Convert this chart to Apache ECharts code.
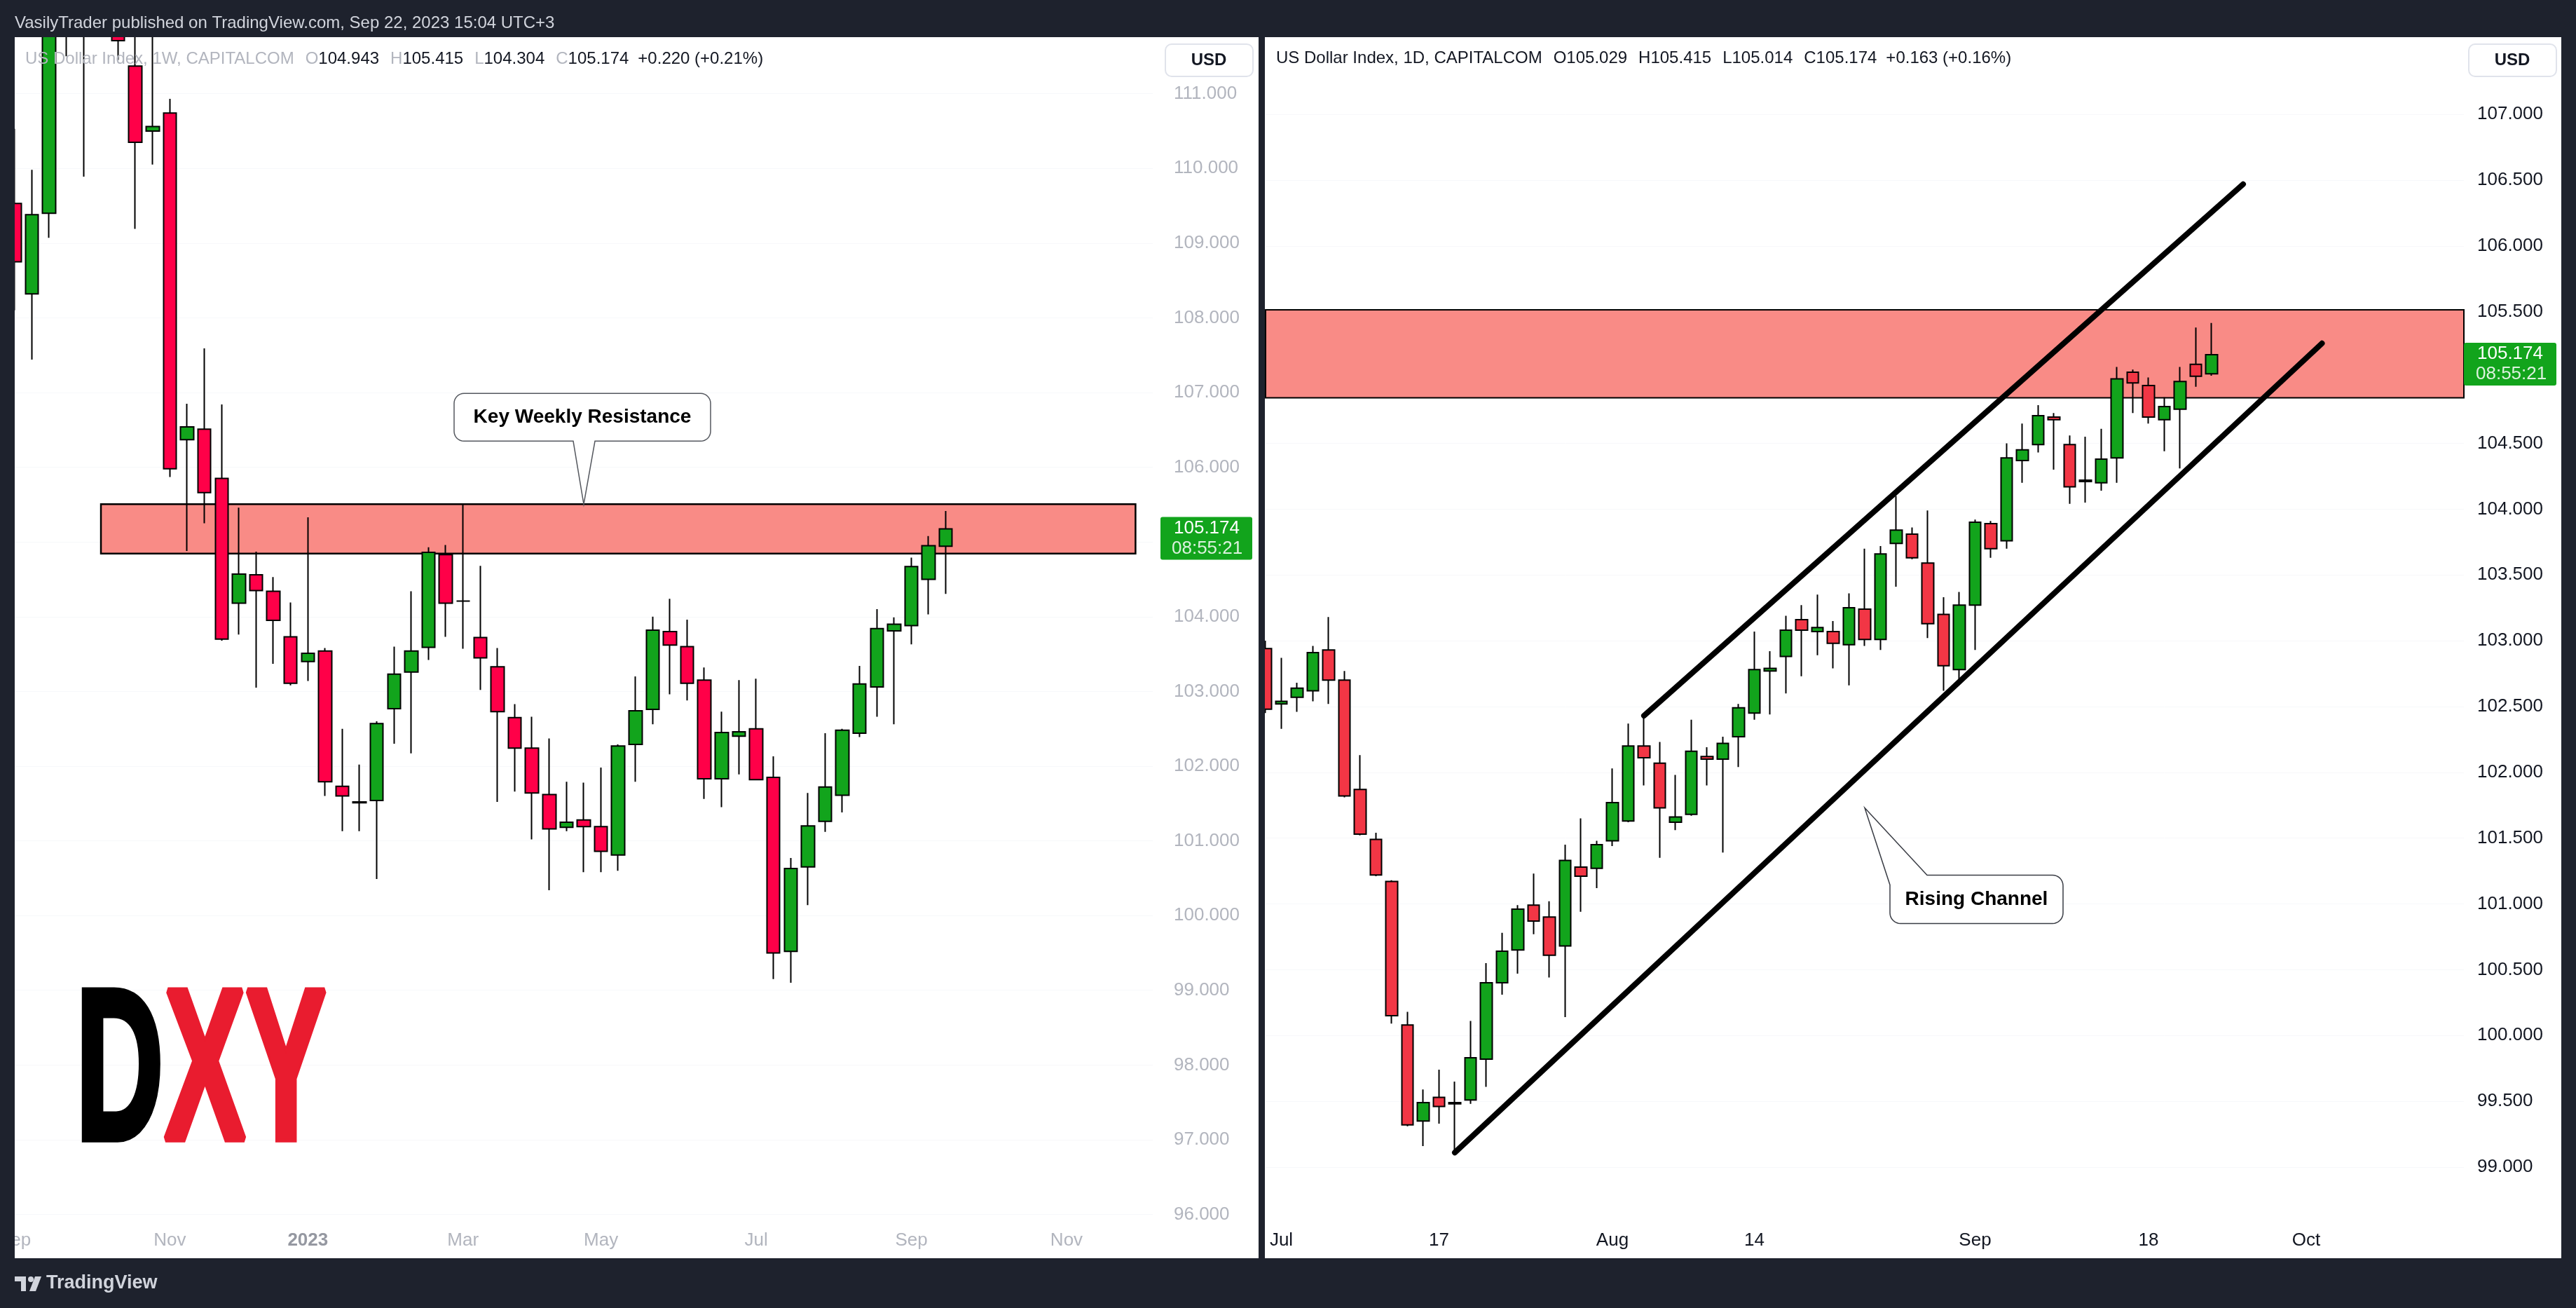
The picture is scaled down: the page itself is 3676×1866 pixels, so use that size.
<!DOCTYPE html>
<html><head><meta charset="utf-8">
<script src="https://cdn.jsdelivr.net/npm/echarts@6/dist/echarts.min.js"></script>
<style>html,body{margin:0;padding:0;background:#1e222d;}#c{width:3676px;height:1866px;}</style>
</head><body><div id="c"></div>
<script>
// ---------------- DATA ----------------
const weeklyDates = ['2022-09-05','2022-09-12','2022-09-19','2022-09-26','2022-10-03','2022-10-10','2022-10-17','2022-10-24','2022-10-31','2022-11-07','2022-11-14','2022-11-21','2022-11-28','2022-12-05','2022-12-12','2022-12-19','2022-12-26','2023-01-02','2023-01-09','2023-01-16','2023-01-23','2023-01-30','2023-02-06','2023-02-13','2023-02-20','2023-02-27','2023-03-06','2023-03-13','2023-03-20','2023-03-27','2023-04-03','2023-04-10','2023-04-17','2023-04-24','2023-05-01','2023-05-08','2023-05-15','2023-05-22','2023-05-29','2023-06-05','2023-06-12','2023-06-19','2023-06-26','2023-07-03','2023-07-10','2023-07-17','2023-07-24','2023-07-31','2023-08-07','2023-08-14','2023-08-21','2023-08-28','2023-09-04','2023-09-11','2023-09-18'];
const weeklyFutureDates = ['2023-09-25','2023-10-02','2023-10-09','2023-10-16','2023-10-23','2023-10-30','2023-11-06','2023-11-13','2023-11-20','2023-11-27','2023-12-04','2023-12-11'];
const weeklyOpen  = [109.53,108.32,109.40,113.10,112.00,112.80,113.30,111.37,110.50,110.74,106.37,106.51,105.85,104.18,104.56,104.34,103.73,103.40,103.54,101.73,101.51,101.54,102.77,103.26,103.59,104.83,104.21,103.72,103.33,102.65,102.24,101.62,101.18,101.28,101.19,100.81,102.29,102.76,103.80,103.60,103.15,101.83,102.40,102.50,101.85,99.52,100.65,101.26,101.61,102.44,103.06,103.81,103.88,104.50,104.943];
const weeklyHigh  = [110.53,109.98,113.20,114.70,112.90,113.90,113.90,112.00,113.00,110.93,106.85,107.59,106.84,105.46,104.87,104.53,104.19,105.33,103.58,102.50,102.02,102.60,103.60,104.34,104.93,104.96,105.51,104.68,103.58,102.83,102.66,102.37,101.79,101.78,101.98,102.29,103.20,104.00,104.24,103.96,103.32,102.73,103.15,103.17,102.13,100.77,101.64,102.44,102.50,103.34,104.10,103.99,104.79,105.08,105.415];
const weeklyLow   = [108.10,107.44,109.07,111.50,109.89,112.40,111.45,109.19,110.05,105.87,104.88,105.25,103.68,103.76,103.05,103.37,103.08,103.14,101.60,101.13,101.13,100.49,102.30,102.17,103.42,103.73,103.57,103.02,101.52,101.66,101.02,100.34,101.13,100.58,100.58,100.60,101.79,102.56,102.96,102.88,101.56,101.45,101.89,101.81,99.15,99.10,100.14,101.12,101.38,102.39,102.66,102.56,103.63,104.03,104.304];
const weeklyClose = [108.75,109.38,113.10,112.10,112.80,113.30,111.71,110.35,110.56,105.98,106.54,105.66,103.70,104.57,104.35,103.95,103.11,103.51,101.79,101.60,101.52,102.57,103.23,103.54,104.86,104.18,104.21,103.45,102.73,102.24,101.64,101.16,101.25,101.19,100.86,102.27,102.74,103.82,103.62,103.11,101.83,102.45,102.46,101.82,99.50,100.63,101.20,101.72,102.48,103.10,103.84,103.90,104.67,104.95,105.174];

const dailyDates = ['2023-06-30','2023-07-03','2023-07-04','2023-07-05','2023-07-06','2023-07-07','2023-07-10','2023-07-11','2023-07-12','2023-07-13','2023-07-14','2023-07-17','2023-07-18','2023-07-19','2023-07-20','2023-07-21','2023-07-24','2023-07-25','2023-07-26','2023-07-27','2023-07-28','2023-07-31','2023-08-01','2023-08-02','2023-08-03','2023-08-04','2023-08-07','2023-08-08','2023-08-09','2023-08-10','2023-08-11','2023-08-14','2023-08-15','2023-08-16','2023-08-17','2023-08-18','2023-08-21','2023-08-22','2023-08-23','2023-08-24','2023-08-25','2023-08-28','2023-08-29','2023-08-30','2023-08-31','2023-09-01','2023-09-04','2023-09-05','2023-09-06','2023-09-07','2023-09-08','2023-09-11','2023-09-12','2023-09-13','2023-09-14','2023-09-15','2023-09-18','2023-09-19','2023-09-20','2023-09-21','2023-09-22'];
const dailyFutureDates = ['2023-09-25','2023-09-26','2023-09-27','2023-09-28','2023-09-29','2023-10-02','2023-10-03','2023-10-04','2023-10-05','2023-10-06','2023-10-09','2023-10-10','2023-10-11','2023-10-12','2023-10-13','2023-10-16'];
const dailyOpen  = [102.94,102.52,102.57,102.62,102.93,102.70,101.87,101.49,101.17,100.08,99.35,99.53,99.48,99.51,99.82,100.40,100.65,100.99,100.90,100.68,101.28,101.27,101.48,101.63,102.20,102.07,101.62,101.68,102.12,102.10,102.27,102.45,102.77,102.88,103.16,103.07,103.07,102.97,103.24,103.01,103.74,103.81,103.59,103.20,102.78,103.27,103.89,103.76,104.37,104.49,104.70,104.49,104.21,104.20,104.39,105.04,104.94,104.68,104.76,105.10,105.029];
const dailyHigh  = [103.00,102.87,102.68,102.96,103.18,102.77,102.13,101.54,101.18,100.18,99.59,99.74,99.65,100.11,100.55,100.78,100.99,101.23,101.02,101.45,101.65,101.48,102.03,102.37,102.43,102.23,101.98,102.40,102.19,102.27,102.52,103.07,102.92,103.19,103.27,103.35,103.15,103.36,103.70,103.72,104.10,103.86,103.99,103.33,103.37,103.92,103.91,104.50,104.65,104.79,104.73,104.56,104.55,104.61,105.08,105.06,105.00,104.85,105.08,105.38,105.415];
const dailyLow   = [102.45,102.33,102.46,102.54,102.52,101.81,101.52,101.21,100.09,99.31,99.16,99.33,99.11,99.48,99.61,100.31,100.47,100.77,100.44,100.14,100.94,101.12,101.44,101.62,101.90,101.35,101.56,101.67,101.90,101.39,102.04,102.40,102.44,102.60,102.73,102.89,102.79,102.66,102.96,102.93,103.41,103.62,103.02,102.62,102.67,102.93,103.63,103.70,104.20,104.43,104.30,104.04,104.05,104.14,104.20,104.73,104.65,104.44,104.31,104.93,105.014];
const dailyClose = [102.48,102.54,102.64,102.91,102.70,101.82,101.53,101.22,100.15,99.32,99.49,99.46,99.49,99.83,100.40,100.64,100.96,100.87,100.61,101.33,101.21,101.45,101.77,102.20,102.11,101.73,101.66,102.16,102.10,102.22,102.49,102.78,102.79,103.08,103.08,103.10,102.98,103.25,103.01,103.66,103.84,103.63,103.13,102.81,103.27,103.90,103.70,104.39,104.45,104.71,104.68,104.17,104.22,104.38,104.99,104.96,104.70,104.78,104.97,105.01,105.174];

const weeklyTickDates  = ['2022-09-05','2022-11-07','2023-01-02','2023-03-06','2023-05-01','2023-07-03','2023-09-04','2023-11-06'];
const weeklyTickLabels = ['Sep','Nov','2023','Mar','May','Jul','Sep','Nov'];
const dailyTickDates   = ['2023-07-03','2023-07-17','2023-08-01','2023-08-14','2023-09-01','2023-09-18','2023-10-02'];
const dailyTickLabels  = ['Jul','17','Aug','14','Sep','18','Oct'];
const weeklyPriceTicks = [96,97,98,99,100,101,102,103,104,105,106,107,108,109,110,111];
const dailyPriceTicks  = [99,99.5,100,100.5,101,101.5,102,102.5,103,103.5,104,104.5,105,105.5,106,106.5,107];

const weeklyZone = ['2022-10-10','2023-12-04',104.844,105.505];
const dailyZone  = ['2023-06-30','2023-10-16',104.846,105.515];
const channelUpper = [['2023-08-03',102.43],['2023-09-26',106.47]];
const channelLower = [['2023-07-18',99.11],['2023-10-03',105.26]];
const weeklyCallout = ['2023-04-24',105.505,'Key Weekly Resistance'];
const dailyCallout  = ['2023-08-23',101.73,'Rising Channel'];
const lastPrice = 105.174;
const countdown = '08:55:21';
const weeklyHeader = ['US Dollar Index, 1W, CAPITALCOM','104.943','105.415','104.304','105.174','+0.220 (+0.21%)'];
const dailyHeader  = ['US Dollar Index, 1D, CAPITALCOM','105.029','105.415','105.014','105.174','+0.163 (+0.16%)'];

// ---------------- CHART ----------------
const FONT = '"Liberation Sans", Arial, sans-serif';
const GREEN = '#12a41c';
const wkCandles = weeklyDates.map((d,i)=>[weeklyOpen[i],weeklyClose[i],weeklyLow[i],weeklyHigh[i]]);
const dyCandles = dailyDates.map((d,i)=>[dailyOpen[i],dailyClose[i],dailyLow[i],dailyHigh[i]]);
const wkCats = weeklyDates.concat(weeklyFutureDates);
const dyCats = dailyDates.concat(dailyFutureDates);

function xAxisFor(gridIndex, cats, tickDates, tickLabels, color){
  return {
    type:'category', gridIndex, data:cats, boundaryGap:false,
    axisLine:{show:false}, axisTick:{show:false}, splitLine:{show:false},
    axisLabel:{
      color, fontSize:26, fontFamily:FONT, margin:17, hideOverlap:false,
      interval:(idx,val)=>tickDates.indexOf(val)>=0,
      formatter:(val)=>{const k=tickDates.indexOf(val); if(k<0) return ''; const t=tickLabels[k]; return /^\d{4}$/.test(t)?'{b|'+t+'}':t;},
      rich:{b:{fontWeight:'bold',color:'#9598a1',fontSize:26,fontFamily:FONT}}
    }
  };
}
function yAxisFor(gridIndex, min, max, ticks, color, margin){
  return {
    type:'value', gridIndex, position:'right', min, max, scale:true,
    axisLine:{show:false},
    axisTick:{show:false, customValues:ticks},
    splitLine:{show:true, lineStyle:{color:'#f7f8fa', width:1}},
    axisLabel:{customValues:ticks, color, fontSize:26, fontFamily:FONT, margin, align:'left',
      formatter:(v)=>v.toFixed(3)}
  };
}

const option = {
  backgroundColor:'#ffffff',
  animation:false,
  grid:[
    {left:21, top:53, width:1624, height:1687, outerBoundsMode:'none', containLabel:false},
    {left:1806, top:53, width:1710, height:1687, outerBoundsMode:'none', containLabel:false}
  ],
  xAxis:[
    xAxisFor(0, wkCats, weeklyTickDates, weeklyTickLabels, '#b2b5be'),
    xAxisFor(1, dyCats, dailyTickDates, dailyTickLabels, '#131722')
  ],
  yAxis:[
    yAxisFor(0, 95.93, 111.756, weeklyPriceTicks, '#b2b5be', 30),
    yAxisFor(1, 98.60, 107.587, dailyPriceTicks, '#131722', 19)
  ],
  series:[
    {type:'line', xAxisIndex:0, yAxisIndex:0, data:[], z:1, silent:true,
     markArea:{silent:true, itemStyle:{color:'#f98b86', borderColor:'#000', borderWidth:2.5},
       data:[[{xAxis:weeklyZone[0], yAxis:weeklyZone[2]},{xAxis:weeklyZone[1], yAxis:weeklyZone[3]}]]}},
    {type:'line', xAxisIndex:1, yAxisIndex:1, data:[], z:1, silent:true,
     markArea:{silent:true, itemStyle:{color:'#f98b86', borderColor:'#000', borderWidth:2},
       data:[[{xAxis:dailyZone[0], yAxis:dailyZone[2]},{xAxis:dailyZone[1], yAxis:dailyZone[3]}]]}},
    {type:'candlestick', xAxisIndex:0, yAxisIndex:0, data:wkCandles, z:3, barWidth:19,
     itemStyle:{color:GREEN, color0:'#ff0048', borderColor:'#000', borderColor0:'#000', borderColorDoji:'#000', borderWidth:2}},
    {type:'candlestick', xAxisIndex:1, yAxisIndex:1, data:dyCandles, z:3, barWidth:17,
     itemStyle:{color:GREEN, color0:'#f23645', borderColor:'#000', borderColor0:'#000', borderColorDoji:'#000', borderWidth:2}},
    {type:'line', xAxisIndex:1, yAxisIndex:1, data:channelUpper, z:4, symbol:'none', silent:true,
     lineStyle:{color:'#000', width:8, cap:'round'}},
    {type:'line', xAxisIndex:1, yAxisIndex:1, data:channelLower, z:4, symbol:'none', silent:true,
     lineStyle:{color:'#000', width:8, cap:'round'}}
  ]
};

const chart = echarts.init(document.getElementById('c'), null, {width:3676, height:1866});
chart.setOption(option);

function px(g, x, y){ return chart.convertToPixel({xAxisIndex:g, yAxisIndex:g}, [x, y]); }
function arcPts(cx, cy, r, a0, a1){
  const pts=[]; const n=8;
  for(let i=0;i<=n;i++){ const a=(a0+(a1-a0)*i/n)*Math.PI/180; pts.push([cx+r*Math.cos(a), cy+r*Math.sin(a)]); }
  return pts;
}

const DARK = '#1e222d';
const els = [];
[[0,0,3676,53],[0,1795,3676,71],[0,0,21,1866],[1796,0,9,1866],[3655,0,21,1866]].forEach(r=>{
  els.push({type:'rect', shape:{x:r[0],y:r[1],width:r[2],height:r[3]}, style:{fill:DARK}, z:100, silent:true});
});
els.push({type:'text', x:21, y:33, z:101, style:{text:'VasilyTrader published on TradingView.com, Sep 22, 2023 15:04 UTC+3', fill:'#d1d4dc', fontSize:24, fontFamily:FONT, verticalAlign:'middle'}});
function header(x, y, h, gray, dark){
  const letters=['O','H','L','C'];
  let t='{t|'+h[0]+'}';
  for(let i=0;i<4;i++){ t+='{l|'+letters[i]+'}{v|'+h[i+1]+'}'; }
  t+='{c|'+h[5]+'}';
  return {type:'text', x, y, z:101, style:{text:t, verticalAlign:'middle', fontFamily:FONT, fontSize:24,
    rich:{t:{fill:gray,fontSize:24,fontFamily:FONT}, l:{fill:gray,fontSize:24,fontFamily:FONT,padding:[0,0,0,16]},
          v:{fill:dark,fontSize:24,fontFamily:FONT}, c:{fill:dark,fontSize:24,fontFamily:FONT,padding:[0,0,0,13]}}}};
}
els.push(header(36, 84, weeklyHeader, '#b2b5be', '#131722'));
els.push(header(1821, 83, dailyHeader, '#131722', '#131722'));
[[1663,63],[3523,63]].forEach(p=>{
  els.push({type:'rect', shape:{x:p[0],y:p[1],width:125,height:46,r:9}, style:{fill:'#fff', stroke:'#e0e3eb', lineWidth:2}, z:101});
  els.push({type:'text', x:p[0]+62, y:p[1]+23, z:102, style:{text:'USD', fill:'#131722', fontSize:24, fontWeight:600, fontFamily:FONT, align:'center', verticalAlign:'middle'}});
});
const ly = px(0, weeklyDates[weeklyDates.length-1], lastPrice)[1];
const ry = px(1, dailyDates[dailyDates.length-1], lastPrice)[1];
[[1656, ly, 131, 1675, 1672],[3516, ry, 132, 3535, 3533]].forEach(p=>{
  els.push({type:'rect', shape:{x:p[0], y:p[1]-17, width:p[2], height:61, r:3}, style:{fill:GREEN}, z:101});
  els.push({type:'text', x:p[3], y:p[1]-1, z:102, style:{text:lastPrice.toFixed(3), fill:'#fff', fontSize:26, fontFamily:FONT, verticalAlign:'middle'}});
  els.push({type:'text', x:p[4], y:p[1]+28, z:102, style:{text:countdown, fill:'rgba(255,255,255,0.85)', fontSize:26, fontFamily:FONT, verticalAlign:'middle'}});
});
(function(){
  const p = px(0, weeklyCallout[0], weeklyCallout[1]);
  const tx=p[0], ty=p[1];
  const L=tx-185, R=tx+181, T=ty-158, B=ty-90, r=14, xl=tx-15, xr=tx+16;
  let pts=[[tx,ty],[xr,B]];
  pts=pts.concat(arcPts(R-r,B-r,r,90,0), arcPts(R-r,T+r,r,0,-90), arcPts(L+r,T+r,r,-90,-180), arcPts(L+r,B-r,r,180,90));
  pts.push([xl,B]);
  els.push({type:'polygon', shape:{points:pts}, style:{fill:'#fff', stroke:'#55585f', lineWidth:1.5}, z:50});
  els.push({type:'text', x:(L+R)/2, y:(T+B)/2, z:51, style:{text:weeklyCallout[2], fill:'#000', fontSize:28, fontWeight:'bold', fontFamily:FONT, align:'center', verticalAlign:'middle'}});
})();
(function(){
  const p = px(1, dailyCallout[0], dailyCallout[1]);
  const tx=p[0], ty=p[1];
  const L=tx+36, R=tx+283, T=ty+96, B=ty+165, r=15;
  let pts=[[tx,ty],[L+53,T]];
  pts=pts.concat(arcPts(R-r,T+r,r,-90,0), arcPts(R-r,B-r,r,0,90), arcPts(L+r,B-r,r,90,180));
  pts.push([L,T+14]);
  els.push({type:'polygon', shape:{points:pts}, style:{fill:'#fff', stroke:'#3a3d45', lineWidth:1.5}, z:50});
  els.push({type:'text', x:(L+R)/2, y:(T+B)/2, z:51, style:{text:dailyCallout[2], fill:'#000', fontSize:28, fontWeight:'bold', fontFamily:FONT, align:'center', verticalAlign:'middle'}});
})();
// DXY logo
const dxyShadow = {shadowBlur:45, shadowColor:'rgba(0,0,0,0.45)', shadowOffsetY:6};
els.push({type:'group', x:108, y:1540, scaleX:0.565, z:40, children:[
  {type:'text', x:0, y:0, z:40, style:Object.assign({text:'D', fill:'#000', stroke:'#000', lineWidth:10, lineJoin:'bevel', fontSize:307, fontWeight:'bold', fontFamily:FONT, verticalAlign:'middle'}, dxyShadow)},
  {type:'text', x:224, y:0, z:40, style:Object.assign({text:'XY', fill:'#e91c2f', stroke:'#e91c2f', lineWidth:10, lineJoin:'bevel', fontSize:307, fontWeight:'bold', fontFamily:FONT, verticalAlign:'middle'}, dxyShadow)}
]});
// TradingView footer logo
els.push({type:'rect', shape:{x:21,y:1821,width:16,height:7}, style:{fill:'#d1d4dc'}, z:102});
els.push({type:'rect', shape:{x:30,y:1821,width:7,height:21}, style:{fill:'#d1d4dc'}, z:102});
els.push({type:'circle', shape:{cx:44,cy:1825,r:4}, style:{fill:'#d1d4dc'}, z:102});
els.push({type:'polygon', shape:{points:[[50,1821],[59,1821],[51,1842],[42,1842]]}, style:{fill:'#d1d4dc'}, z:102});
els.push({type:'text', x:66, y:1831, z:102, style:{text:'TradingView', fill:'#d1d4dc', fontSize:27, fontWeight:600, fontFamily:FONT, verticalAlign:'middle'}});

chart.setOption({graphic:{elements:els}});
</script>
</body></html>
